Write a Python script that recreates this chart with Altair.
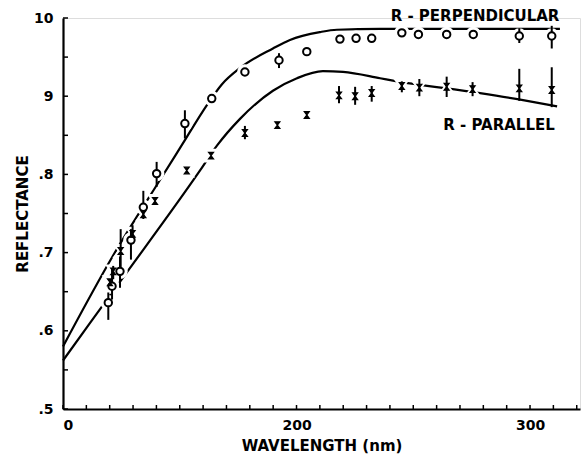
import altair as alt
import pandas as pd

# Measured reflectance, perpendicular polarisation (circles)
perp_wl = [119.4, 121.0, 124.4, 129.1, 134.4, 140.1, 152.2, 163.7, 177.9, 192.5,
           204.4, 218.6, 225.5, 232.2, 245.1, 252.2, 264.3, 275.7, 295.4, 309.3]
perp_r = [0.636, 0.657, 0.676, 0.716, 0.758, 0.801, 0.865, 0.897, 0.931, 0.946,
          0.957, 0.973, 0.974, 0.974, 0.981, 0.979, 0.979, 0.979, 0.977, 0.977]

# Measured reflectance, parallel polarisation (crosses)
par_wl = [120.1, 121.5, 124.7, 129.8, 134.4, 139.4, 153.0, 163.4, 177.9, 191.8,
          204.4, 218.2, 225.1, 232.2, 245.1, 252.6, 264.3, 275.4, 295.4, 309.3]
par_r = [0.662, 0.676, 0.702, 0.724, 0.749, 0.766, 0.805, 0.824, 0.853, 0.863,
         0.876, 0.901, 0.900, 0.904, 0.913, 0.911, 0.912, 0.909, 0.910, 0.908]

# Error bars (wavelength, low, high)
perp_err_wl = [119.4, 121.0, 124.4, 129.1, 134.4, 140.1, 152.2, 192.5, 295.4, 309.3]
perp_err_lo = [0.614, 0.640, 0.655, 0.691, 0.743, 0.784, 0.846, 0.936, 0.968, 0.961]
perp_err_hi = [0.649, 0.680, 0.695, 0.730, 0.779, 0.816, 0.882, 0.955, 0.987, 0.990]

par_err_wl = [121.5, 124.7, 129.8, 177.9, 218.2, 225.1, 232.2, 245.1, 252.6, 264.3, 275.4, 295.4, 309.3]
par_err_lo = [0.666, 0.680, 0.712, 0.845, 0.891, 0.889, 0.893, 0.905, 0.900, 0.899, 0.900, 0.894, 0.886]
par_err_hi = [0.683, 0.730, 0.735, 0.862, 0.913, 0.912, 0.913, 0.919, 0.922, 0.925, 0.918, 0.935, 0.937]

# Calculated curves
perp_curve_wl = [100.0, 121.4, 142.4, 151.0, 161.7, 168.0, 175.8, 189.9, 197.2,
                 210.1, 217.3, 235.8, 312.8]
perp_curve_r = [0.580, 0.696, 0.797, 0.838, 0.889, 0.915, 0.936, 0.961, 0.972,
                0.982, 0.985, 0.986, 0.986]

par_curve_wl = [100.0, 111.6, 125.7, 158.7, 166.0, 175.8, 189.9, 200.2,
                211.3, 219.9, 235.8, 241.3, 278.6, 297.0, 311.6]
par_curve_r = [0.562, 0.610, 0.668, 0.805, 0.837, 0.871, 0.907, 0.923,
               0.932, 0.931, 0.923, 0.920, 0.904, 0.895, 0.887]

# Axis ticks and labels
x_ticks = list(range(100, 321, 10))
x_labels = {100: "0", 200: "200", 300: "300"}
y_ticks = [0.5, 0.55, 0.6, 0.65, 0.7, 0.75, 0.8, 0.85, 0.9, 0.95, 1.0]
y_label_vals = [0.5, 0.6, 0.7, 0.8, 0.9, 1.0]
y_label_text = [".5", ".6", ".7", ".8", "9", "10"]

FONT = "DejaVu Sans"
W, H = 517, 391

x_expr = " : ".join(f"datum.value == {k} ? '{v}'" for k, v in x_labels.items()) + " : ''"
y_expr = " : ".join(
    f"abs(datum.value - {v}) < 0.001 ? '{t}'" for v, t in zip(y_label_vals, y_label_text)
) + " : ''"

xs = alt.Scale(domain=[100, 321.4], nice=False, zero=False)
ys = alt.Scale(domain=[0.5, 1.0], nice=False, zero=False)

x_axis = alt.Axis(values=x_ticks, labelExpr=x_expr, tickSize=0, grid=False,
                  domainColor="black", domainWidth=2.2, labelFont=FONT,
                  labelFontSize=14, labelFontWeight="bold", labelColor="black",
                  labelPadding=9, labelOverlap=False,
                  title="WAVELENGTH (nm)", titleFont=FONT, titleFontSize=15,
                  titleFontWeight="bold", titleColor="black", titlePadding=6)
y_axis = alt.Axis(values=y_label_vals, labelExpr=y_expr, tickSize=0, grid=False,
                  domainColor="black", domainWidth=2.2, labelFont=FONT,
                  labelFontSize=14, labelFontWeight="bold", labelColor="black",
                  labelPadding=10,
                  title="REFLECTANCE", titleFont=FONT, titleFontSize=15,
                  titleFontWeight="bold", titleColor="black", titlePadding=3)

perp_pts = pd.DataFrame({"wl": perp_wl, "r": perp_r})
par_pts = pd.DataFrame({"wl": par_wl, "r": par_r})
perp_err = pd.DataFrame({"wl": perp_err_wl, "lo": perp_err_lo, "hi": perp_err_hi})
par_err = pd.DataFrame({"wl": par_err_wl, "lo": par_err_lo, "hi": par_err_hi})
perp_curve = pd.DataFrame({"wl": perp_curve_wl, "r": perp_curve_r})
par_curve = pd.DataFrame({"wl": par_curve_wl, "r": par_curve_r})

# Base layer carrying the axes
axes = alt.Chart(pd.DataFrame({"wl": [100], "r": [0.5]})).mark_point(opacity=0).encode(
    x=alt.X("wl:Q", scale=xs, axis=x_axis),
    y=alt.Y("r:Q", scale=ys, axis=y_axis),
)

# Inward-pointing ticks
xt = alt.Chart(pd.DataFrame({"wl": x_ticks})).mark_rule(color="black", strokeWidth=1.5).encode(
    x=alt.X("wl:Q", scale=xs), y=alt.value(H), y2=alt.value(H - 4))
yt = alt.Chart(pd.DataFrame({"r": y_ticks})).mark_rule(color="black", strokeWidth=1.5).encode(
    y=alt.Y("r:Q", scale=ys), x=alt.value(0), x2=alt.value(5))

def curve(df):
    return alt.Chart(df).mark_line(color="black", strokeWidth=2.2, interpolate="monotone").encode(
        x=alt.X("wl:Q", scale=xs), y=alt.Y("r:Q", scale=ys))

def halo(df, shape, size):
    return alt.Chart(df).mark_point(shape=shape, size=size, filled=True, fill="white",
                                    stroke="white", strokeWidth=5, opacity=1).encode(
        x=alt.X("wl:Q", scale=xs), y=alt.Y("r:Q", scale=ys))

def errbar(df):
    return alt.Chart(df).mark_rule(color="black", strokeWidth=2).encode(
        x=alt.X("wl:Q", scale=xs), y=alt.Y("lo:Q", scale=ys), y2="hi:Q")

hourglass = "M-0.75,-1L0.75,-1L-0.75,1L0.75,1Z"

circles = alt.Chart(perp_pts).mark_point(shape="circle", size=55, filled=False, fill="white",
                                         stroke="black", strokeWidth=2, opacity=1).encode(
    x=alt.X("wl:Q", scale=xs), y=alt.Y("r:Q", scale=ys))
crosses = alt.Chart(par_pts).mark_point(shape=hourglass, size=45, filled=True, fill="black",
                                        stroke="black", strokeWidth=1.2, opacity=1).encode(
    x=alt.X("wl:Q", scale=xs), y=alt.Y("r:Q", scale=ys))
circle_fill = alt.Chart(perp_pts).mark_point(shape="circle", size=45, filled=True, color="white",
                                             opacity=1).encode(
    x=alt.X("wl:Q", scale=xs), y=alt.Y("r:Q", scale=ys))

lab_perp = alt.Chart(pd.DataFrame({"t": ["R - PERPENDICULAR"]})).mark_text(
    font=FONT, fontSize=15, fontWeight="bold", color="black", align="center", baseline="middle"
).encode(text="t:N", x=alt.value(412), y=alt.value(-2))
lab_par = alt.Chart(pd.DataFrame({"t": ["R - PARALLEL"]})).mark_text(
    font=FONT, fontSize=15, fontWeight="bold", color="black", align="center", baseline="middle"
).encode(text="t:N", x=alt.value(436), y=alt.value(107))

chart = alt.layer(
    axes, xt, yt,
    curve(perp_curve), curve(par_curve),
    halo(perp_pts, "circle", 110), halo(par_pts, hourglass, 80),
    errbar(perp_err), errbar(par_err),
    circle_fill, circles, crosses,
    lab_perp, lab_par,
).properties(
    width=W, height=H,
    autosize=alt.AutoSizeParams(type="none"),
    padding={"left": 63, "top": 18, "right": 3, "bottom": 50},
).configure_view(stroke=None).configure(background="white")

chart.save("out.html", embed_options={"renderer": "svg", "actions": False})
